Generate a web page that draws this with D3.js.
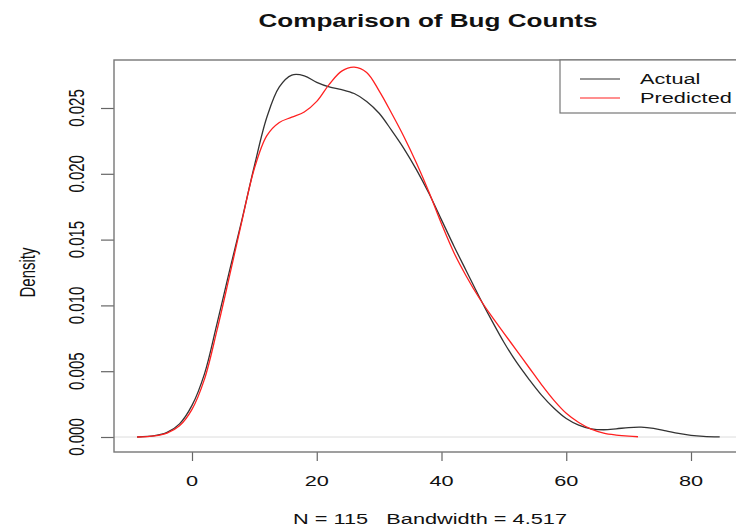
<!DOCTYPE html>
<html>
<head>
<meta charset="utf-8">
<script src="https://cdn.jsdelivr.net/npm/d3@7/dist/d3.min.js"></script>
<style>
  html, body { margin: 0; padding: 0; background: #fff; }
  svg { display: block; }
  text { font-family: "Liberation Sans", Arial, Helvetica, sans-serif; fill: #111; }
</style>
</head>
<body>
<svg id="chart" width="736" height="527"></svg>
<script>
// Kernel density estimates of bug counts (density evaluated along the count axis)
const actualX = [-8.8, -6, -4, -2, 0, 2, 4, 6, 8, 10, 12, 14, 16, 18, 20, 22, 24, 26, 28, 30,
  32, 34, 36, 38, 40, 42, 44, 46, 48, 50, 52, 54, 56, 58, 60, 62, 64, 66, 68, 70, 72, 74, 76,
  78, 80, 82, 84.6];
const actualDensity = [0.00000, 0.00010, 0.00035, 0.00100, 0.00240, 0.00480, 0.00860, 0.01260,
  0.01650, 0.02060, 0.02430, 0.02660, 0.02750, 0.02745, 0.02695, 0.02660, 0.02640, 0.02610,
  0.02550, 0.02460, 0.02330, 0.02190, 0.02030, 0.01850, 0.01650, 0.01450, 0.01260, 0.01070,
  0.00890, 0.00720, 0.00570, 0.00440, 0.00320, 0.00220, 0.00140, 0.00090, 0.00062, 0.00055,
  0.00062, 0.00072, 0.00075, 0.00066, 0.00047, 0.00027, 0.00013, 0.00005, 0.00001];

const predictedX = [-8.8, -6, -4, -2, 0, 2, 4, 6, 8, 10, 12, 14, 16, 18, 20, 22, 24, 26, 28, 30,
  32, 34, 36, 38, 40, 42, 44, 46, 48, 50, 52, 54, 56, 58, 60, 62, 64, 66, 68, 70, 71.5];
const predictedDensity = [0.00000, 0.00008, 0.00030, 0.00085, 0.00210, 0.00440, 0.00810,
  0.01220, 0.01640, 0.02040, 0.02290, 0.02390, 0.02430, 0.02470, 0.02550, 0.02680, 0.02780,
  0.02810, 0.02770, 0.02630, 0.02460, 0.02280, 0.02080, 0.01860, 0.01620, 0.01400, 0.01220,
  0.01060, 0.00920, 0.00790, 0.00660, 0.00530, 0.00400, 0.00280, 0.00180, 0.00110, 0.00060,
  0.00030, 0.00015, 0.00006, 0.00002];

const xTicks = [0, 20, 40, 60, 80];
const yTicks = [0, 0.005, 0.010, 0.015, 0.020, 0.025];
const yTickLabels = ["0.000", "0.005", "0.010", "0.015", "0.020", "0.025"];
const seriesNames = ["Actual", "Predicted"];
const seriesColors = ["#333333", "#ff2020"];
const titleText = "Comparison of Bug Counts";
const xLabelText = "N = 115   Bandwidth = 4.517";
const yLabelText = "Density";

// Plot frame
const box = { left: 114, top: 60, right: 742, bottom: 452 };
const SX = 1.45; // horizontal text stretch of this device

const svg = d3.select("#chart");

const x = d3.scaleLinear().domain([0, 80]).range([192, 691]);
const y = d3.scaleLinear().domain([0, 0.025]).range([437, 108]);

function label(x0, y0, txt, opt = {}) {
  return svg.append("text")
    .attr("transform", `translate(${x0},${y0}) scale(${SX},1)` + (opt.rotate ? " rotate(-90)" : ""))
    .attr("text-anchor", opt.anchor || "middle")
    .attr("dy", opt.dy || "0.36em")
    .style("font-size", (opt.size || 15) + "px")
    .style("font-weight", opt.bold ? "bold" : "normal")
    .style("white-space", "pre")
    .text(txt);
}

// zero reference line
svg.append("line")
  .attr("x1", box.left).attr("x2", box.right)
  .attr("y1", y(0)).attr("y2", y(0))
  .attr("stroke", "#dcdcdc").attr("stroke-width", 1);

// density curves
const line = d3.line()
  .x(d => x(d[0]))
  .y(d => y(d[1]))
  .curve(d3.curveCatmullRom.alpha(0.5));

const actualPts = d3.zip(actualX, actualDensity);
const predictedPts = d3.zip(predictedX, predictedDensity);

svg.append("path").datum(actualPts)
  .attr("d", line).attr("fill", "none")
  .attr("stroke", seriesColors[0]).attr("stroke-width", 1.3);
svg.append("path").datum(predictedPts)
  .attr("d", line).attr("fill", "none")
  .attr("stroke", seriesColors[1]).attr("stroke-width", 1.3);

// axes (ticks only, labels placed separately)
const xAxis = svg.append("g")
  .attr("transform", `translate(0,${box.bottom})`)
  .call(d3.axisBottom(x).tickValues(xTicks).tickSize(9).tickFormat(""));
const yAxis = svg.append("g")
  .attr("transform", `translate(${box.left},0)`)
  .call(d3.axisLeft(y).tickValues(yTicks).tickSize(13).tickFormat(""));
[xAxis, yAxis].forEach(a => {
  a.select(".domain").remove();
  a.selectAll(".tick line").attr("stroke", "#666").attr("stroke-width", 1.2);
});

// frame
svg.append("rect")
  .attr("x", box.left).attr("y", box.top)
  .attr("width", box.right - box.left).attr("height", box.bottom - box.top)
  .attr("fill", "none").attr("stroke", "#777").attr("stroke-width", 1.4);

// tick labels
xTicks.forEach(v => label(x(v), 481, String(v)));
yTicks.forEach((v, i) => label(76, y(v), yTickLabels[i], { rotate: true }));

// titles
label(428, 21, titleText, { size: 18, bold: true });
label(430, 519, xLabelText);
label(27, y(0.0125), yLabelText, { rotate: true });

// legend
const lg = { left: 560, top: 60, right: 742, bottom: 113 };
svg.append("rect")
  .attr("x", lg.left).attr("y", lg.top)
  .attr("width", lg.right - lg.left).attr("height", lg.bottom - lg.top)
  .attr("fill", "#fff").attr("stroke", "#777").attr("stroke-width", 1.2);
seriesNames.forEach((name, i) => {
  const yy = 79 + i * 19;
  svg.append("line")
    .attr("x1", 580).attr("x2", 620).attr("y1", yy).attr("y2", yy)
    .attr("stroke", seriesColors[i]).attr("stroke-width", 1.2);
  label(640, yy, name, { anchor: "start" });
});
</script>
</body>
</html>
